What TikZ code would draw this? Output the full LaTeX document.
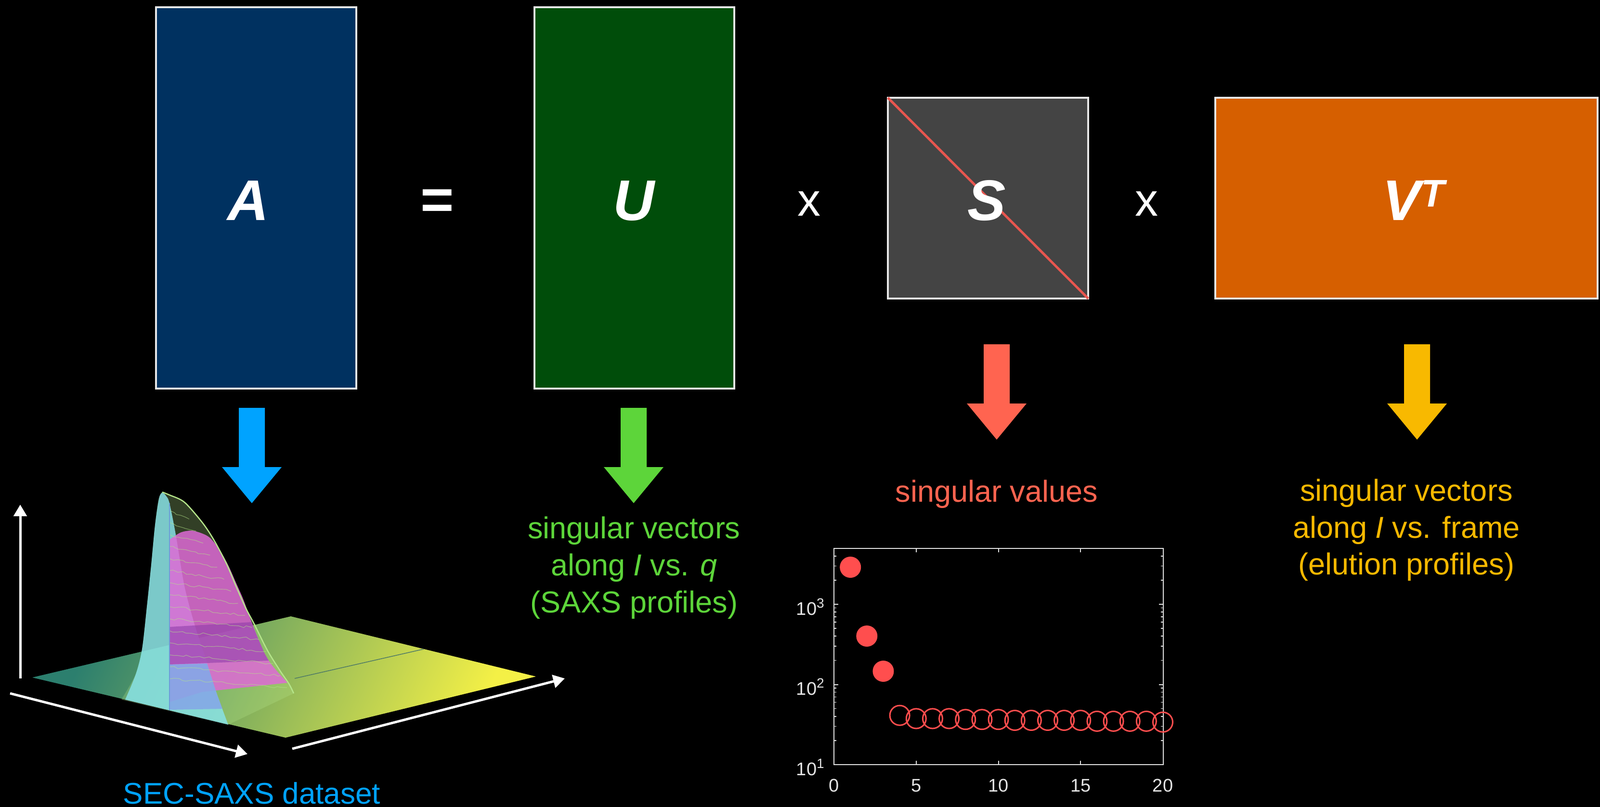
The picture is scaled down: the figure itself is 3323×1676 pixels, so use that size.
\documentclass[tikz,border=0pt]{standalone}
\usepackage{fontspec}
\setmainfont{Liberation Sans}
\usetikzlibrary{arrows.meta,decorations.pathmorphing}
\definecolor{Afill}{HTML}{003160}
\definecolor{Ufill}{HTML}{004D0A}
\definecolor{Sfill}{HTML}{444444}
\definecolor{Vfill}{HTML}{D65F00}
\definecolor{boxline}{HTML}{E6E6E6}
\definecolor{diagred}{HTML}{E8564F}
\definecolor{cblue}{HTML}{00A3FF}
\definecolor{cgreen}{HTML}{5DD53A}
\definecolor{cred}{HTML}{FF6450}
\definecolor{cyellow}{HTML}{F8B900}
\definecolor{mark}{HTML}{FF4E4E}
\definecolor{axisgray}{HTML}{E4E4E4}
\definecolor{planeL}{HTML}{2C7F6E}
\definecolor{planeM}{HTML}{5FB552}
\definecolor{planeR}{HTML}{F4F046}
\definecolor{planeline}{HTML}{4F7A66}
\definecolor{vline}{HTML}{6B9CD8}
\definecolor{slabcyan}{HTML}{88E2E6}
\definecolor{slabmag}{HTML}{DE6AD6}
\definecolor{slabpurple}{HTML}{8A3AA8}
\definecolor{slabblue}{HTML}{84A8E6}
\definecolor{wire}{HTML}{B5E58A}
\begin{document}
\begin{tikzpicture}[x=1pt,y=-1pt,
  mbox/.style={draw=boxline, line width=4.5pt, inner sep=0pt, outer sep=0pt},
  boxlabel/.style={text=white, font=\fontsize{119}{119}\selectfont\bfseries\itshape, anchor=base, inner sep=0pt},
  oplabel/.style={text=white, inner sep=0pt},
  capline/.style={font=\fontsize{63}{63}\selectfont, anchor=base, inner sep=0pt},
  ticklab/.style={text=axisgray, font=\fontsize{38}{38}\selectfont, inner sep=0pt},
  blockarrow/.pic={\fill[pic actions] (-27,0) -- (27,0) -- (27,123) -- (62,123) -- (0,198) -- (-62,123) -- (-27,123) -- cycle;},
  axisarrow/.style={white, line width=5pt, -{Triangle[length=24pt,width=27pt]}},
  openmark/.style={draw=mark, line width=3pt},
  fillmark/.style={fill=mark}
]
\fill[black] (0,0) rectangle (3323,1676);
\useasboundingbox (0,0) rectangle (3323,1676);

% ---- matrices ----
\node[mbox, fill=Afill, minimum width=416pt, minimum height=792pt] (A) at (532,411) {};
\node[mbox, fill=Ufill, minimum width=415pt, minimum height=792pt] (U) at (1317.5,411) {};
\node[mbox, fill=Sfill, minimum width=416pt, minimum height=417pt] (S) at (2052,411.5) {};
\node[mbox, fill=Vfill, minimum width=794pt, minimum height=417pt] (V) at (2921,411.5) {};
\draw[diagred, line width=5pt] (S.north west) -- (S.south east);

\node[boxlabel] (lA) at (515,457) {A};
\node[boxlabel] (lU) at (1316,457) {U};
\node[boxlabel] (lS) at (2049,457) {S};
\node[boxlabel] (lV) at (2936,457) {V\raisebox{28pt}{\fontsize{80}{80}\selectfont T}};

\node[oplabel, font=\fontsize{119}{119}\selectfont\bfseries] (eq) at (908,425) {=};
\node[oplabel, font=\fontsize{96}{96}\selectfont] (x1) at (1680,423) {x};
\node[oplabel, font=\fontsize{96}{96}\selectfont] (x2) at (2381,423) {x};

% ---- block arrows ----
\pic[fill=cblue] (arA) at (523,847) {blockarrow};
\pic[fill=cgreen] (arU) at (1316,847) {blockarrow};
\pic[fill=cred] (arS) at (2070,715) {blockarrow};
\pic[fill=cyellow] (arV) at (2943,715) {blockarrow};

% ---- captions ----
\node[capline, text=cgreen] (g1) at (1317,1118) {singular vectors};
\node[capline, text=cgreen] (g2) at (1317,1195) {along \textit{I} vs. \textit{q}};
\node[capline, text=cgreen] (g3) at (1317,1272) {(SAXS profiles)};
\node[capline, text=cred] (r1) at (2070,1042) {singular values};
\node[capline, text=cyellow] (y1) at (2921,1040) {singular vectors};
\node[capline, text=cyellow] (y2) at (2921,1117) {along \textit{I} vs. frame};
\node[capline, text=cyellow] (y3) at (2921,1193) {(elution profiles)};
\node[capline, text=cblue, font=\fontsize{62}{62}\selectfont] (b1) at (523,1669) {SEC-SAXS dataset};

% ---- 3D surface ----
\shade[left color=planeL, middle color=planeM, right color=planeR, shading angle=65]
  (67,1407) -- (604,1280) -- (1113,1405) -- (593,1532) -- cycle;
\draw[planeline, line width=1.5pt] (612,1409) -- (880,1348);
% envelope (wireframe region)
\fill[wire, opacity=0.28] plot[smooth] coordinates {(252,1453) (282,1400) (295,1348) (305,1260) (314,1173) (322,1090) (329,1038) (337,1022) (352,1028) (383,1043) (420,1085) (444,1121) (470,1170) (490,1217) (510,1262) (528,1296) (555,1350) (581,1392) (600,1420) (610,1440)} -- (474,1505) -- cycle;
% cyan slab
\fill[slabcyan, opacity=0.85] plot[smooth] coordinates {(260,1453) (282,1400) (295,1348) (305,1260) (314,1173) (322,1090) (330,1036) (337,1023) (345,1030) (352,1045) (365,1110) (383,1217) (405,1300) (428,1370) (450,1440) (474,1505)} -- cycle;
% magenta region
\fill[slabmag, opacity=0.85] plot[smooth] coordinates {(352,1121) (375,1106) (398,1102) (420,1108) (436,1117) (455,1140) (474,1174) (490,1210) (505,1244) (520,1285) (536,1326) (550,1358) (566,1383) (597,1418)} -- (420,1437) -- (352,1458) -- cycle;
\fill[slabpurple, opacity=0.55] (352,1302) -- (522,1292) -- (536,1326) -- (550,1358) -- (558,1372) -- (352,1380) -- cycle;
\fill[slabblue, opacity=0.9] (352,1380) -- (430,1378) -- (450,1440) -- (462,1472) -- (352,1474) -- cycle;
% wire lines
\foreach \yy in {1060,1085,...,1420} {
  \pgfmathsetmacro\xr{383+(\yy-1043)*0.58}
  \draw[wire, opacity=0.55, line width=1.2pt, decorate, decoration={random steps, segment length=9pt, amplitude=2.5pt}] (352,\yy) -- (\xr,\yy+18);
}
\draw[wire, line width=2.5pt] plot[smooth] coordinates {(337,1022) (352,1028) (383,1043) (420,1085) (444,1121) (470,1170) (490,1217) (510,1262) (528,1296) (555,1350) (581,1392) (600,1420) (610,1440)};
\draw[vline, line width=2pt] (352,1045) -- (352,1475);

% axes
\coordinate (ax0) at (42,1409);
\coordinate (ax1) at (42,1048);
\coordinate (af0) at (21,1440);
\coordinate (af1) at (514,1566);
\coordinate (ar0) at (607,1555);
\coordinate (ar1) at (1173,1409);
\draw[axisarrow] (ax0) -- (ax1);
\draw[axisarrow] (af0) -- (af1);
\draw[axisarrow] (ar0) -- (ar1);

% ---- singular value plot ----
\foreach \n in {5,10,15} {
  \pgfmathsetmacro\xx{1732+34.15*\n}
  \draw[axisgray, line width=2pt] (\xx,1588) -- (\xx,1580);
  \draw[axisgray, line width=2pt] (\xx,1139) -- (\xx,1147);
}
\foreach \yb in {1588,1421.5,1255} {
  \draw[axisgray, line width=2pt] (1732,\yb) -- (1741,\yb);
  \draw[axisgray, line width=2pt] (2416,\yb) -- (2407,\yb);
  \foreach \k in {2,...,9} {
    \pgfmathsetmacro\ym{\yb-log10(\k)*166.5}
    \pgfmathparse{\ym>1141 ? 1 : 0}
    \ifnum\pgfmathresult=1
      \draw[axisgray, line width=1.6pt] (1732,\ym) -- (1737,\ym);
      \draw[axisgray, line width=1.6pt] (2416,\ym) -- (2411,\ym);
    \fi
  }
}
\draw[axisgray, line width=2.5pt] (1732,1139) rectangle (2416,1588);
\foreach \n in {0,5,10,15,20} {
  \pgfmathsetmacro\xx{1732+34.15*\n}
  \node[ticklab, anchor=base] at (\xx,1644) {\n};
}
\node[ticklab, anchor=base east] (t1) at (1712,1610) {10\raisebox{15pt}{\fontsize{28}{28}\selectfont 1}};
\node[ticklab, anchor=base east] (t2) at (1712,1443.5) {10\raisebox{15pt}{\fontsize{28}{28}\selectfont 2}};
\node[ticklab, anchor=base east] (t3) at (1712,1277) {10\raisebox{15pt}{\fontsize{28}{28}\selectfont 3}};
% data
\fill[fillmark] (1766.15,1178) circle (22);
\fill[fillmark] (1800.3,1321) circle (22);
\fill[fillmark] (1834.45,1394) circle (22);
\foreach \n/\yy in {4/1485.7,5/1492.4,6/1492.4,7/1492.4,8/1494.2,9/1494.2,10/1494.2,11/1496,12/1496,13/1496,14/1496,15/1496,16/1497.9,17/1497.9,18/1497.9,19/1497.9,20/1499.7} {
  \draw[openmark] (1732+34.15*\n,\yy) circle (20.5);
}
\end{tikzpicture}
\end{document}
